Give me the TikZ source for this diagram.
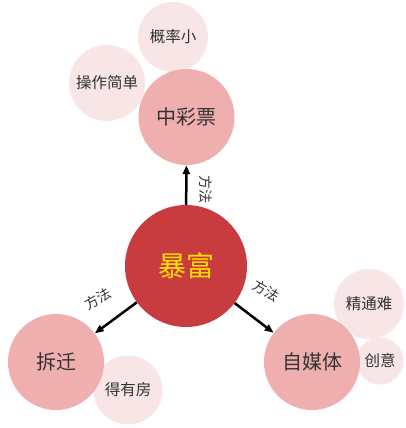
\documentclass[tikz,border=0pt]{standalone}
\usepackage{fontspec}
\setmainfont{Noto Sans CJK SC}
\usetikzlibrary{arrows.meta}
\definecolor{core}{HTML}{C83C40}
\definecolor{mid}{HTML}{EFAFAF}
\definecolor{light}{HTML}{F8E6E6}
\definecolor{ink}{HTML}{333333}
\definecolor{gold}{HTML}{FFE000}
\tikzset{
  corenode/.style={circle, fill=core, minimum size=122pt, inner sep=0pt, text=gold, font=\fontsize{28}{30}\selectfont},
  midnode/.style={circle, fill=mid, minimum size=96pt, inner sep=0pt, text=ink, font=\fontsize{20}{22}\selectfont},
  leafnode/.style={circle, fill=light, inner sep=0pt, text=ink, font=\fontsize{15.5}{17}\selectfont},
  link/.style={line width=2.5pt, -{Triangle[length=9pt,width=7pt]}},
  linklabel/.style={text=ink, font=\fontsize{14}{16}\selectfont, inner sep=0pt}
}
\begin{document}
\begin{tikzpicture}[x=1pt,y=-1pt]
\useasboundingbox (0,0) rectangle (406,428);
% leaves first (behind)
\node[leafnode, minimum size=70pt] (gailv) at (173,37) {概率小};
\node[leafnode, minimum size=76pt] (caozuo) at (107,83) {操作简单};
\node[leafnode, minimum size=69pt] (deyou) at (128,390) {得有房};
\node[leafnode, minimum size=70pt] (jingtong) at (369,304) {精通难};
\node[leafnode, minimum size=47pt] (chuangyi) at (380,361) {创意};
% mid
\node[midnode] (caipiao) at (186.5,117) {中彩票};
\node[midnode] (chaiqian) at (56,362) {拆迁};
\node[midnode] (zimeiti) at (312,362) {自媒体};
% core
\node[corenode] (baofu) at (186,266) {暴富};
% links
\draw[link] (baofu) -- (caipiao);
\draw[link] (baofu) -- (chaiqian);
\draw[link] (baofu) -- (zimeiti);
\node[linklabel, rotate=-90] (l1) at (206,189) {方法};
\node[linklabel, rotate=30] (l2) at (98,299) {方法};
\node[linklabel, rotate=-30] (l3) at (266,291) {方法};
\end{tikzpicture}
\end{document}
